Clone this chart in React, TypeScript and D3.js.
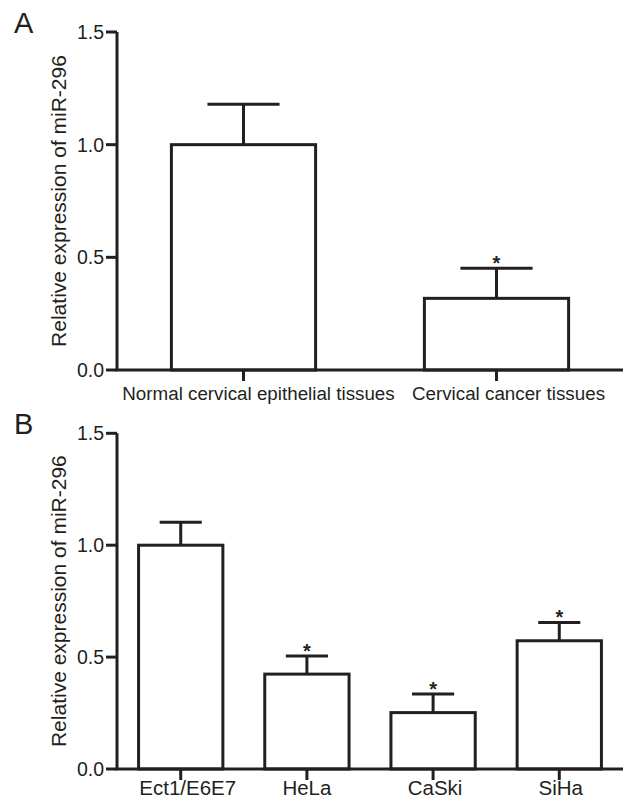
import React from "react";
import * as d3 from "d3";

const catsA = ["Normal cervical epithelial tissues", "Cervical cancer tissues"];
const meanA = [1.0, 0.318];
const errA = [0.179, 0.133];
const sigA = [false, true];
const labelShiftA = [15, 12];

const catsB = ["Ect1/E6E7", "HeLa", "CaSki", "SiHa"];
const meanB = [1.0, 0.424, 0.252, 0.573];
const errB = [0.102, 0.081, 0.083, 0.082];
const sigB = [false, true, true, true];
const labelShiftB = [7, 0, 2, 1.5];

const yTicks = [0, 0.5, 1.0, 1.5];
const yLabel = "Relative expression of miR-296";

const FONT = "'Liberation Sans', Arial, Helvetica, sans-serif";
const INK = "#231f20";
const SW = 3;

type PanelProps = {
  letter: string;
  cats: string[];
  means: number[];
  errs: number[];
  sig: boolean[];
  shifts: number[];
  yTop: number;
  yBottom: number;
  paddingInner: number;
  paddingOuter: number;
  labelSize: number;
  labelGap: number;
};

function Panel(p: PanelProps) {
  const x0 = 117;
  const x1 = 623;
  const y = d3.scaleLinear().domain([0, 1.5]).range([p.yBottom, p.yTop]);
  const x = d3
    .scaleBand<string>()
    .domain(p.cats)
    .range([x0, x1])
    .paddingInner(p.paddingInner)
    .paddingOuter(p.paddingOuter);
  const bw = x.bandwidth();
  const cap = bw / 2;
  const midY = (p.yTop + p.yBottom) / 2;
  return (
    <g>
      <text x={14} y={p.yTop + 1} fontSize={29} fontFamily={FONT} fill={INK}>
        {p.letter}
      </text>
      <text
        transform={`translate(66,${midY}) rotate(-90)`}
        textAnchor="middle"
        fontSize={21}
        fontFamily={FONT}
        fill={INK}
      >
        {yLabel}
      </text>
      {p.cats.map((c, i) => {
        const left = x(c)!;
        const cx = left + bw / 2;
        const top = y(p.means[i]);
        const et = y(p.means[i] + p.errs[i]);
        return (
          <g key={c}>
            <line x1={cx} x2={cx} y1={top} y2={et} stroke={INK} strokeWidth={SW} />
            <line x1={cx - cap / 2} x2={cx + cap / 2} y1={et} y2={et} stroke={INK} strokeWidth={SW} />
            <rect
              x={left}
              y={top}
              width={bw}
              height={y(0) - top}
              fill="#fff"
              stroke={INK}
              strokeWidth={SW}
            />
            {p.sig[i] && (
              <text
                x={cx}
                y={et + 2}
                textAnchor="middle"
                fontSize={20}
                fontWeight="bold"
                fontFamily={FONT}
                fill={INK}
              >
                *
              </text>
            )}
            <line x1={cx} x2={cx} y1={y(0)} y2={y(0) + 11} stroke={INK} strokeWidth={SW} />
            <text
              x={cx + p.shifts[i]}
              y={y(0) + p.labelGap}
              textAnchor="middle"
              fontSize={p.labelSize}
              fontFamily={FONT}
              fill={INK}
            >
              {c}
            </text>
          </g>
        );
      })}
      <line x1={x0} x2={x0} y1={y(1.5)} y2={y(0)} stroke={INK} strokeWidth={SW} />
      <line x1={x0 - 1.5} x2={x1} y1={y(0)} y2={y(0)} stroke={INK} strokeWidth={SW} />
      {yTicks.map((t) => (
        <g key={t}>
          <line x1={x0 - 11} x2={x0} y1={y(t)} y2={y(t)} stroke={INK} strokeWidth={SW} />
          <text
            x={104}
            y={y(t) + 7}
            textAnchor="end"
            fontSize={19.5}
            fontFamily={FONT}
            fill={INK}
          >
            {t.toFixed(1)}
          </text>
        </g>
      ))}
    </g>
  );
}

export default function App() {
  return (
    <div style={{ position: "absolute", left: 0, top: 0 }}>
      <svg width={627} height={799} style={{ display: "block", background: "#fff" }}>
        <Panel
          letter="A"
          cats={catsA}
          means={meanA}
          errs={errA}
          sig={sigA}
          shifts={labelShiftA}
          yTop={32}
          yBottom={370}
          paddingInner={0.43}
          paddingOuter={0.215}
          labelSize={18.8}
          labelGap={30}
        />
        <Panel
          letter="B"
          cats={catsB}
          means={meanB}
          errs={errB}
          sig={sigB}
          shifts={labelShiftB}
          yTop={433.3}
          yBottom={769}
          paddingInner={0.332}
          paddingOuter={0.171}
          labelSize={20.5}
          labelGap={25.5}
        />
      </svg>
    </div>
  );
}
